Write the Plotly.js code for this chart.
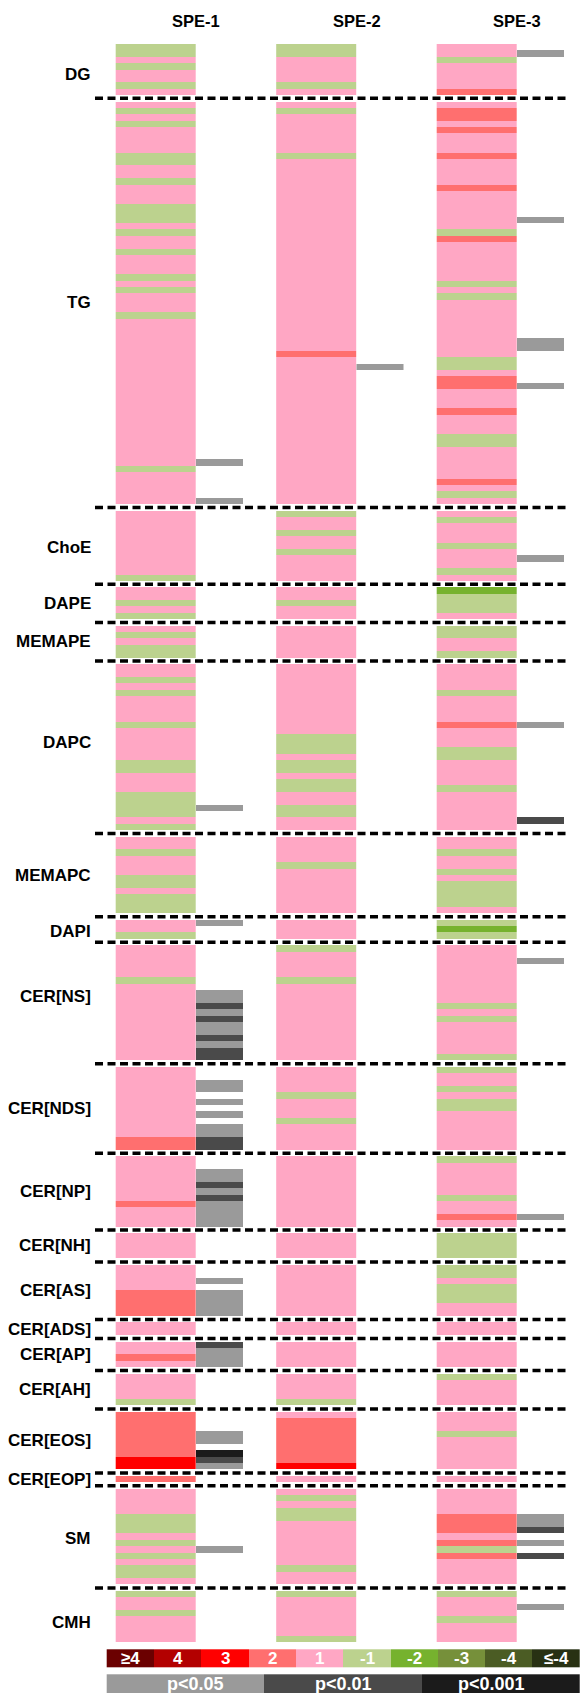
<!DOCTYPE html>
<html><head><meta charset="utf-8">
<script src="https://cdn.plot.ly/plotly-3.0.1.min.js"></script>
<style>html,body{margin:0;padding:0;background:#fff}</style>
</head><body>
<div id="chart" style="width:585px;height:1693px"></div>
<script>
// ---------- data ----------
const groups = ["DG","TG","ChoE","DAPE","MEMAPE","DAPC","MEMAPC","DAPI","CER[NS]","CER[NDS]","CER[NP]","CER[NH]","CER[AS]","CER[ADS]","CER[AP]","CER[AH]","CER[EOS]","CER[EOP]","SM","CMH"];
const groupSizes = [8,63,11,5,5,26,12,3,18,13,11,4,8,2,4,5,9,1,15,8];
const samples = ["SPE-1","SPE-2","SPE-3"];
const foldLevels = ["≥4","4","3","2","1","-1","-2","-3","-4","≤-4"];
const pLevels = ["p<0.05","p<0.01","p<0.001"];
const defaultFold = "1";
// runs: [class, first lipid index in class, number of lipids, level]
const SPE1_fold = [
 ["DG",0,2,"-1"],["DG",3,1,"-1"],["DG",6,1,"-1"],
 ["TG",1,1,"-1"],["TG",3,1,"-1"],["TG",8,2,"-1"],["TG",12,1,"-1"],["TG",16,3,"-1"],["TG",20,1,"-1"],["TG",23,1,"-1"],["TG",27,1,"-1"],["TG",29,1,"-1"],["TG",33,1,"-1"],["TG",57,1,"-1"],
 ["ChoE",10,1,"-1"],
 ["DAPE",2,1,"-1"],["DAPE",4,1,"-1"],
 ["MEMAPE",1,1,"-1"],["MEMAPE",3,2,"-1"],
 ["DAPC",2,1,"-1"],["DAPC",4,1,"-1"],["DAPC",9,1,"-1"],["DAPC",15,2,"-1"],["DAPC",20,4,"-1"],["DAPC",25,1,"-1"],
 ["MEMAPC",2,1,"-1"],["MEMAPC",6,2,"-1"],["MEMAPC",9,3,"-1"],
 ["DAPI",2,1,"-1"],
 ["CER[NS]",5,1,"-1"],
 ["CER[NDS]",11,2,"2"],
 ["CER[NP]",7,1,"2"],
 ["CER[AS]",4,4,"2"],
 ["CER[AP]",2,1,"2"],
 ["CER[AH]",4,1,"-1"],
 ["CER[EOS]",0,7,"2"],["CER[EOS]",7,2,"3"],
 ["CER[EOP]",0,1,"2"],
 ["SM",4,3,"-1"],["SM",8,1,"-1"],["SM",10,1,"-1"],["SM",12,2,"-1"],
 ["CMH",0,1,"-1"],["CMH",3,1,"-1"]
];
const SPE1_p = [
 ["TG",56,1,"p<0.05"],["TG",62,1,"p<0.05"],
 ["DAPC",22,1,"p<0.05"],
 ["DAPI",0,1,"p<0.05"],
 ["CER[NS]",7,2,"p<0.05"],["CER[NS]",9,1,"p<0.01"],["CER[NS]",10,1,"p<0.05"],["CER[NS]",11,1,"p<0.01"],["CER[NS]",12,2,"p<0.05"],["CER[NS]",14,1,"p<0.01"],["CER[NS]",15,1,"p<0.05"],["CER[NS]",16,2,"p<0.01"],
 ["CER[NDS]",2,2,"p<0.05"],["CER[NDS]",5,1,"p<0.05"],["CER[NDS]",7,1,"p<0.05"],["CER[NDS]",9,2,"p<0.05"],["CER[NDS]",11,2,"p<0.01"],
 ["CER[NP]",2,2,"p<0.05"],["CER[NP]",4,1,"p<0.01"],["CER[NP]",5,1,"p<0.05"],["CER[NP]",6,1,"p<0.01"],["CER[NP]",7,4,"p<0.05"],
 ["CER[AS]",2,1,"p<0.05"],["CER[AS]",4,4,"p<0.05"],
 ["CER[AP]",0,1,"p<0.01"],["CER[AP]",1,3,"p<0.05"],
 ["CER[EOS]",3,2,"p<0.05"],["CER[EOS]",6,1,"p<0.001"],["CER[EOS]",7,1,"p<0.01"],["CER[EOS]",8,1,"p<0.05"],
 ["SM",9,1,"p<0.05"]
];
const SPE2_fold = [
 ["DG",0,2,"-1"],["DG",6,1,"-1"],
 ["TG",1,1,"-1"],["TG",8,1,"-1"],["TG",39,1,"2"],
 ["ChoE",0,1,"-1"],["ChoE",3,1,"-1"],["ChoE",6,1,"-1"],
 ["DAPE",2,1,"-1"],
 ["DAPC",11,3,"-1"],["DAPC",15,2,"-1"],["DAPC",18,2,"-1"],["DAPC",22,2,"-1"],
 ["MEMAPC",4,1,"-1"],
 ["CER[NS]",0,1,"-1"],["CER[NS]",5,1,"-1"],
 ["CER[NDS]",4,1,"-1"],["CER[NDS]",8,1,"-1"],
 ["CER[AH]",4,1,"-1"],
 ["CER[EOS]",1,7,"2"],["CER[EOS]",8,1,"3"],
 ["SM",1,1,"-1"],["SM",3,2,"-1"],["SM",12,1,"-1"],
 ["CMH",0,1,"-1"],["CMH",7,1,"-1"]
];
const SPE2_p = [
 ["TG",41,1,"p<0.05"]
];
const SPE3_fold = [
 ["DG",2,1,"-1"],["DG",7,1,"2"],
 ["TG",1,2,"2"],["TG",4,1,"2"],["TG",8,1,"2"],["TG",13,1,"2"],["TG",20,1,"-1"],["TG",21,1,"2"],["TG",28,1,"-1"],["TG",30,1,"-1"],["TG",40,2,"-1"],["TG",43,2,"2"],["TG",48,1,"2"],["TG",52,2,"-1"],["TG",59,1,"2"],["TG",61,1,"-1"],
 ["ChoE",1,1,"-1"],["ChoE",5,1,"-1"],["ChoE",9,1,"-1"],
 ["DAPE",0,1,"-2"],["DAPE",1,3,"-1"],
 ["MEMAPE",0,2,"-1"],["MEMAPE",4,1,"-1"],
 ["DAPC",4,1,"-1"],["DAPC",9,1,"2"],["DAPC",13,2,"-1"],["DAPC",19,1,"-1"],
 ["MEMAPC",2,1,"-1"],["MEMAPC",5,1,"-1"],["MEMAPC",7,4,"-1"],
 ["DAPI",0,1,"-1"],["DAPI",1,1,"-2"],["DAPI",2,1,"-1"],
 ["CER[NS]",9,1,"-1"],["CER[NS]",11,1,"-1"],["CER[NS]",17,1,"-1"],
 ["CER[NDS]",0,1,"-1"],["CER[NDS]",3,1,"-1"],["CER[NDS]",5,2,"-1"],
 ["CER[NP]",0,1,"-1"],["CER[NP]",6,1,"-1"],["CER[NP]",9,1,"2"],
 ["CER[NH]",0,4,"-1"],
 ["CER[AS]",0,2,"-1"],["CER[AS]",3,3,"-1"],
 ["CER[AH]",0,1,"-1"],
 ["CER[EOS]",3,1,"-1"],
 ["SM",4,3,"2"],["SM",8,1,"2"],["SM",9,1,"-1"],["SM",10,1,"2"],
 ["CMH",0,1,"-1"],["CMH",4,1,"-1"]
];
const SPE3_p = [
 ["DG",1,1,"p<0.05"],
 ["TG",18,1,"p<0.05"],["TG",37,2,"p<0.05"],["TG",44,1,"p<0.05"],
 ["ChoE",7,1,"p<0.05"],
 ["DAPC",9,1,"p<0.05"],["DAPC",24,1,"p<0.01"],
 ["CER[NS]",2,1,"p<0.05"],
 ["CER[NP]",9,1,"p<0.05"],
 ["SM",4,2,"p<0.05"],["SM",6,1,"p<0.01"],["SM",8,1,"p<0.05"],["SM",10,1,"p<0.01"],
 ["CMH",2,1,"p<0.05"]
];

// ---------- styling ----------
const foldColors = ["#6b0000","#b30000","#ff0000","#ff6f6f","#ffa7c4","#bcd28e","#76b22e","#76903a","#4b5c24","#283113"];
const pColors = ["#9a9a9a","#4a4a4a","#1b1b1b"];
const FONT = "Liberation Sans, Arial, sans-serif";
const ROW_PX = 6.392;
// small vertical nudges (px) of some class labels, as placed in the original figure
const labelNudgePx = {"DG":5, "DAPC":-5, "CER[NS]":-6, "CMH":6, "DAPI":2, "SM":2, "ChoE":2};

// row layout: one blank row between classes
const starts = {};
let r = 0;
groups.forEach((g,i)=>{ starts[g]=r; r += groupSizes[i] + 1; });
const nRows = r - 1;
const rowIdx = Array.from({length:nRows},(_,i)=>i);

function buildColumn(runs, isFold){
  const z = rowIdx.map(()=>[null]);
  if (isFold){
    groups.forEach((g,i)=>{ for(let k=0;k<groupSizes[i];k++) z[starts[g]+k][0] = foldLevels.indexOf(defaultFold); });
  }
  const levels = isFold ? foldLevels : pLevels;
  runs.forEach(([g,s,n,lev])=>{ for(let k=0;k<n;k++) z[starts[g]+s+k][0] = levels.indexOf(lev); });
  return z;
}
function discreteScale(cols){
  const n = cols.length, out = [];
  cols.forEach((c,i)=>{ out.push([i/n,c]); out.push([(i+1)/n,c]); });
  return out;
}
const foldScale = discreteScale(foldColors);
const pScale = discreteScale(pColors);

const colLeft = [115.7, 276.2, 436.7];
const colW = 80.3, pW = 47.3;
const foldData = [SPE1_fold, SPE2_fold, SPE3_fold];
const pData = [SPE1_p, SPE2_p, SPE3_p];

const traces = [];
samples.forEach((s,i)=>{
  traces.push({type:'heatmap', x:[colLeft[i], colLeft[i]+colW], y:rowIdx, z:buildColumn(foldData[i], true),
    zmin:-0.5, zmax:foldLevels.length-0.5, colorscale:foldScale, showscale:false, hoverinfo:'skip', xaxis:'x', yaxis:'y'});
  traces.push({type:'heatmap', x:[colLeft[i]+colW, colLeft[i]+colW+pW], y:rowIdx, z:buildColumn(pData[i], false),
    zmin:-0.5, zmax:pLevels.length-0.5, colorscale:pScale, showscale:false, hoverinfo:'skip', xaxis:'x', yaxis:'y'});
});

// legend bars
const legX0 = 106.7, legX1 = 580;
const foldEdges = foldLevels.map((_,i)=>legX0 + i*(legX1-legX0)/foldLevels.length).concat([legX1]);
const pEdges = [legX0, 263.7, 422.7, legX1];
traces.push({type:'heatmap', x:foldEdges, y:[1649.3,1667.3], z:[foldLevels.map((_,i)=>i)],
  zmin:-0.5, zmax:foldLevels.length-0.5, colorscale:foldScale, showscale:false, hoverinfo:'skip', xaxis:'x', yaxis:'y2'});
traces.push({type:'heatmap', x:pEdges, y:[1674.3,1693], z:[pLevels.map((_,i)=>i)],
  zmin:-0.5, zmax:pLevels.length-0.5, colorscale:pScale, showscale:false, hoverinfo:'skip', xaxis:'x', yaxis:'y2'});

const H = 1693 - 44;
const mainBottom = (1693 - 1642.3) / H;

const annotations = [];
samples.forEach((s,i)=>{
  annotations.push({text:'<b>'+s+'</b>', x:colLeft[i]+colW, y:(1693-20.7)/H, xref:'x', yref:'paper',
    showarrow:false, xanchor:'center', yanchor:'middle', font:{family:FONT, size:16.5, color:'#000'}});
});
groups.forEach((g,i)=>{
  const nudge = (labelNudgePx[g] || 0) / ROW_PX;
  annotations.push({text:'<b>'+g+'</b>', x:93, y:starts[g]+(groupSizes[i]-1)/2 + nudge, xref:'x', yref:'y',
    showarrow:false, xanchor:'right', yanchor:'middle', font:{family:FONT, size:17, color:'#000'}});
});
foldLevels.forEach((lab,i)=>{
  annotations.push({text:'<b>'+lab+'</b>', x:(foldEdges[i]+foldEdges[i+1])/2, y:1658.3, xref:'x', yref:'y2',
    showarrow:false, xanchor:'center', yanchor:'middle', font:{family:FONT, size:17, color:'#fff'}});
});
const pTextX = [195, 343.5, 491.7];
pLevels.forEach((lab,i)=>{
  annotations.push({text:'<b>'+lab+'</b>', x:pTextX[i], y:1683.7, xref:'x', yref:'y2',
    showarrow:false, xanchor:'center', yanchor:'middle', font:{family:FONT, size:18, color:'#fff'}});
});

const shapes = [];
groups.slice(0,-1).forEach((g,i)=>{
  const ySep = starts[g] + groupSizes[i];
  shapes.push({type:'line', xref:'x', yref:'y', x0:95, x1:567, y0:ySep, y1:ySep,
    line:{color:'#000', width:3.5, dash:'8px,4.5px'}});
});

const layout = {
  width:585, height:1693, margin:{l:0,r:0,t:44,b:0},
  paper_bgcolor:'#fff', plot_bgcolor:'#fff', showlegend:false,
  xaxis:{range:[0,585], visible:false, fixedrange:true},
  yaxis:{domain:[mainBottom,1], range:[nRows-0.5,-0.5], visible:false, fixedrange:true},
  yaxis2:{domain:[0,mainBottom], range:[1693,1642.3], visible:false, fixedrange:true, anchor:'x'},
  annotations:annotations, shapes:shapes
};
Plotly.newPlot('chart', traces, layout, {staticPlot:true, displayModeBar:false});
</script>
</body></html>
